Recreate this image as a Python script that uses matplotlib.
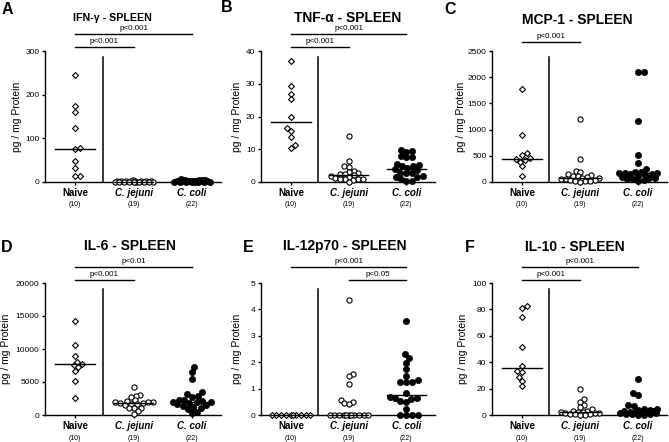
import matplotlib
matplotlib.use("Agg")
import matplotlib.pyplot as plt
from matplotlib.transforms import blended_transform_factory
import numpy as np

plt.rcParams['font.family'] = ['Liberation Sans', 'DejaVu Sans']

groups = ['Naive', 'C. jejuni', 'C. coli']
counts = ['(10)', '(19)', '(22)']
letters = ['A', 'B', 'C', 'D', 'E', 'F']
titles = ['IFN-\u03b3 - SPLEEN', 'TNF-\u03b1 - SPLEEN', 'MCP-1 - SPLEEN',
          'IL-6 - SPLEEN', 'IL-12p70 - SPLEEN', 'IL-10 - SPLEEN']
y_max = [300, 40, 2500, 20000, 5, 100]
y_step = [100, 10, 500, 5000, 1, 20]

# values (pg / mg protein)
ifng_naive = [244, 174, 160, 124, 77, 75, 48, 31, 14, 13]
ifng_jejuni = [3.5, 3, 2.5, 2.2, 2, 1.8, 1.5, 1.3, 1.2, 1, 1, 0.8, 0.7, 0.6, 0.5, 0.4, 0.3, 0.2, 0.1]
ifng_coli = [6, 5, 4.5, 4, 3.5, 3, 2.8, 2.5, 2.2, 2, 1.8, 1.6, 1.4, 1.2, 1, 0.9, 0.8, 0.6, 0.5, 0.4, 0.2, 0.1]

tnf_naive = [36.9, 29.3, 26.8, 25.3, 20.0, 16.6, 15.6, 13.6, 11.2, 10.5]
tnf_jejuni = [14.1, 6.5, 4.8, 4.5, 3.5, 3.0, 2.8, 2.5, 2.3, 2.0, 1.8, 1.5, 1.3, 1.0, 1.0, 0.8, 0.8, 0.6, 0.1]
tnf_coli = [9.8, 9.5, 9.3, 8.0, 7.6, 7.5, 5.6, 5.2, 4.9, 4.8, 4.3, 3.9, 3.6, 2.9, 2.7, 2.6, 1.8, 1.6, 1.5, 0.8, 0.4, 0.3]

mcp_naive = [1780, 900, 560, 510, 460, 430, 420, 390, 305, 115]
mcp_jejuni = [1200, 430, 210, 190, 160, 140, 120, 110, 95, 85, 70, 60, 50, 40, 30, 25, 20, 10, 5]
mcp_coli = [2090, 2090, 1160, 510, 360, 250, 200, 190, 180, 180, 170, 160, 150, 130, 120, 100, 80, 70, 60, 60, 40, 10]

il6_naive = [14300, 10550, 8950, 8100, 7800, 7600, 7250, 6650, 5200, 2600]
il6_jejuni = [4200, 3100, 2900, 2700, 2200, 2100, 2000, 1900, 1900, 1800, 1750, 1700, 1600, 1500, 1100, 1100, 1100, 600, 200]
il6_coli = [7300, 6500, 5500, 3500, 3200, 2900, 2800, 2300, 2200, 2100, 2000, 2000, 1900, 1800, 1600, 1500, 1400, 1200, 1100, 900, 500, 300]

il12_naive = [0] * 10
il12_jejuni = [4.35, 1.57, 1.47, 1.17, 0.57, 0.5, 0.45, 0.4] + [0] * 11
il12_coli = [3.57, 2.3, 2.15, 1.97, 1.74, 1.46, 1.32, 1.26, 1.25, 1.24, 0.83, 0.68, 0.66,
             0.64, 0.62, 0.52, 0.5, 0.24, 0, 0, 0, 0]

il10_naive = [82.8, 81.3, 73.9, 51.6, 37.2, 33.7, 32.7, 28.6, 25.8, 22]
il10_jejuni = [19.7, 12.5, 10, 7.6, 5.8, 4.3, 3.3, 3.0, 2.6, 2.3, 2.0, 1.8, 1.5, 1.3, 1.0, 0.8, 0.5, 0.3, 0.1]
il10_coli = [27, 16.5, 15, 7.3, 6.8, 4.8, 4.2, 3.8, 3.5, 3.0, 2.7, 2.4, 2.2, 2.0, 1.8, 1.5, 1.2, 1.0, 0.8, 0.5, 0.3, 0.1]

panel_data = [
    [ifng_naive, ifng_jejuni, ifng_coli],
    [tnf_naive, tnf_jejuni, tnf_coli],
    [mcp_naive, mcp_jejuni, mcp_coli],
    [il6_naive, il6_jejuni, il6_coli],
    [il12_naive, il12_jejuni, il12_coli],
    [il10_naive, il10_jejuni, il10_coli],
]

# (from group, to group, label, height in axes fraction)
brackets = [
    [(0, 2, 'p<0.001', 1.13), (0, 1, 'p<0.001', 1.03)],
    [(0, 2, 'p<0.001', 1.13), (0, 1, 'p<0.001', 1.03)],
    [(0, 1, 'p<0.001', 1.07)],
    [(0, 2, 'p<0.01', 1.12), (0, 1, 'p<0.001', 1.02)],
    [(0, 2, 'p<0.001', 1.12), (1, 2, 'p<0.05', 1.02)],
    [(0, 2, 'p<0.001', 1.12), (0, 1, 'p<0.001', 1.02)],
]

# layout in pixels of a 669x442 picture
W, H = 669, 442
axes_px = [(45, 221, 51, 182), (261, 435, 51, 182), (492, 667, 51, 182),
           (45, 221, 283, 415), (261, 435, 283, 415), (492, 667, 283, 415)]
title_x = [112, 348, 577, 130, 345, 575]
title_y = [18, 18, 20, 246, 246, 247]
title_size = [7.7, 10, 10, 10, 10, 10]
letter_xy = [(7, 10), (227, 8), (450, 9), (7, 247), (248, 247), (470, 248)]
ylabel_x = [16.5, 237, 461.5, 6, 237, 463]

styles = [dict(marker='D', s=9, facecolors='white', edgecolors='black', linewidths=0.8),
          dict(marker='o', s=14, facecolors='white', edgecolors='black', linewidths=0.8),
          dict(marker='o', s=20, facecolors='black', edgecolors='black', linewidths=0.5)]
diams = [4.8, 4.6, 5.6]


def swarm(ax, xc, vals, diam, half):
    vals = np.asarray(vals, dtype=float)
    pts = ax.transData.transform(np.column_stack([np.full(len(vals), xc), vals]))
    ys = pts[:, 1]
    px_x = ax.transData.transform((1, 0))[0] - ax.transData.transform((0, 0))[0]
    order = np.argsort(ys, kind='stable')
    placed = []
    offs = np.zeros(len(vals))
    cand = np.arange(0, half + 0.01, 0.5)
    for k, i in enumerate(order):
        best, fallback, best_score = None, 0.0, -1.0
        signs = (1, -1) if k % 2 else (-1, 1)
        for c in cand:
            for s in signs:
                dx = s * c
                d = min([np.hypot(dx - px, ys[i] - py) for px, py in placed], default=1e9)
                if d >= diam:
                    best = dx
                    break
                if d > best_score:
                    best_score, fallback = d, dx
            if best is not None:
                break
        if best is None:
            best = fallback
        offs[i] = best
        placed.append((best, ys[i]))
    return xc + offs / px_x


fig = plt.figure(figsize=(W / 100, H / 100), dpi=100)

for p in range(6):
    x0, x1, y0, y1 = axes_px[p]
    ax = fig.add_axes([x0 / W, 1 - y1 / H, (x1 - x0) / W, (y1 - y0) / H])
    ax.set_xlim(-0.52, 2.5)
    ax.set_ylim(0, y_max[p])
    ax.set_yticks(np.arange(0, y_max[p] + y_step[p] / 2, y_step[p]))
    ax.set_xticks([0, 1, 2])
    ax.set_xticklabels([])
    ax.spines['top'].set_visible(False)
    ax.spines['right'].set_visible(False)
    ax.spines['left'].set_linewidth(1.0)
    ax.spines['bottom'].set_linewidth(1.0)
    ax.tick_params(axis='y', length=2.5, width=1.0, labelsize=6, pad=1.5)
    ax.tick_params(axis='x', length=2.2, width=1.0)

    tr = blended_transform_factory(ax.transData, ax.transAxes)
    for g in range(3):
        vals = panel_data[p][g]
        xs = swarm(ax, g, vals, diams[g], 19)
        ax.scatter(xs, vals, clip_on=False, zorder=3, **styles[g])
        med = np.median(vals)
        ax.plot([g - 0.34, g + 0.34], [med, med], color='black', lw=1.0, zorder=4,
                clip_on=False)
        ax.text(g, -0.085, groups[g], transform=tr, ha='center', va='center',
                fontsize=7, fontweight='bold', style='normal' if g == 0 else 'italic')
        ax.text(g, -0.175, counts[g], transform=tr, ha='center', va='center', fontsize=5)

    ax.plot([0.47, 0.47], [0, 0.955], transform=tr, color='black', lw=1.1, clip_on=False)

    for a, b, lab, h in brackets[p]:
        ax.plot([a, b], [h, h], transform=tr, color='black', lw=1.0, clip_on=False)
        ax.text((a + b) / 2, h + 0.015, lab, transform=tr, ha='center', va='bottom',
                fontsize=5.8)

    fig.text(title_x[p] / W, 1 - title_y[p] / H, titles[p], ha='center', va='center',
             fontsize=title_size[p], fontweight='bold')
    fig.text(letter_xy[p][0] / W, 1 - letter_xy[p][1] / H, letters[p], ha='center',
             va='center', fontsize=11.5, fontweight='bold')
    fig.text(ylabel_x[p] / W, 1 - (y0 + y1) / 2 / H, 'pg / mg Protein', rotation=90,
             ha='center', va='center', fontsize=7.5)

fig.savefig('out.png', dpi=100)
